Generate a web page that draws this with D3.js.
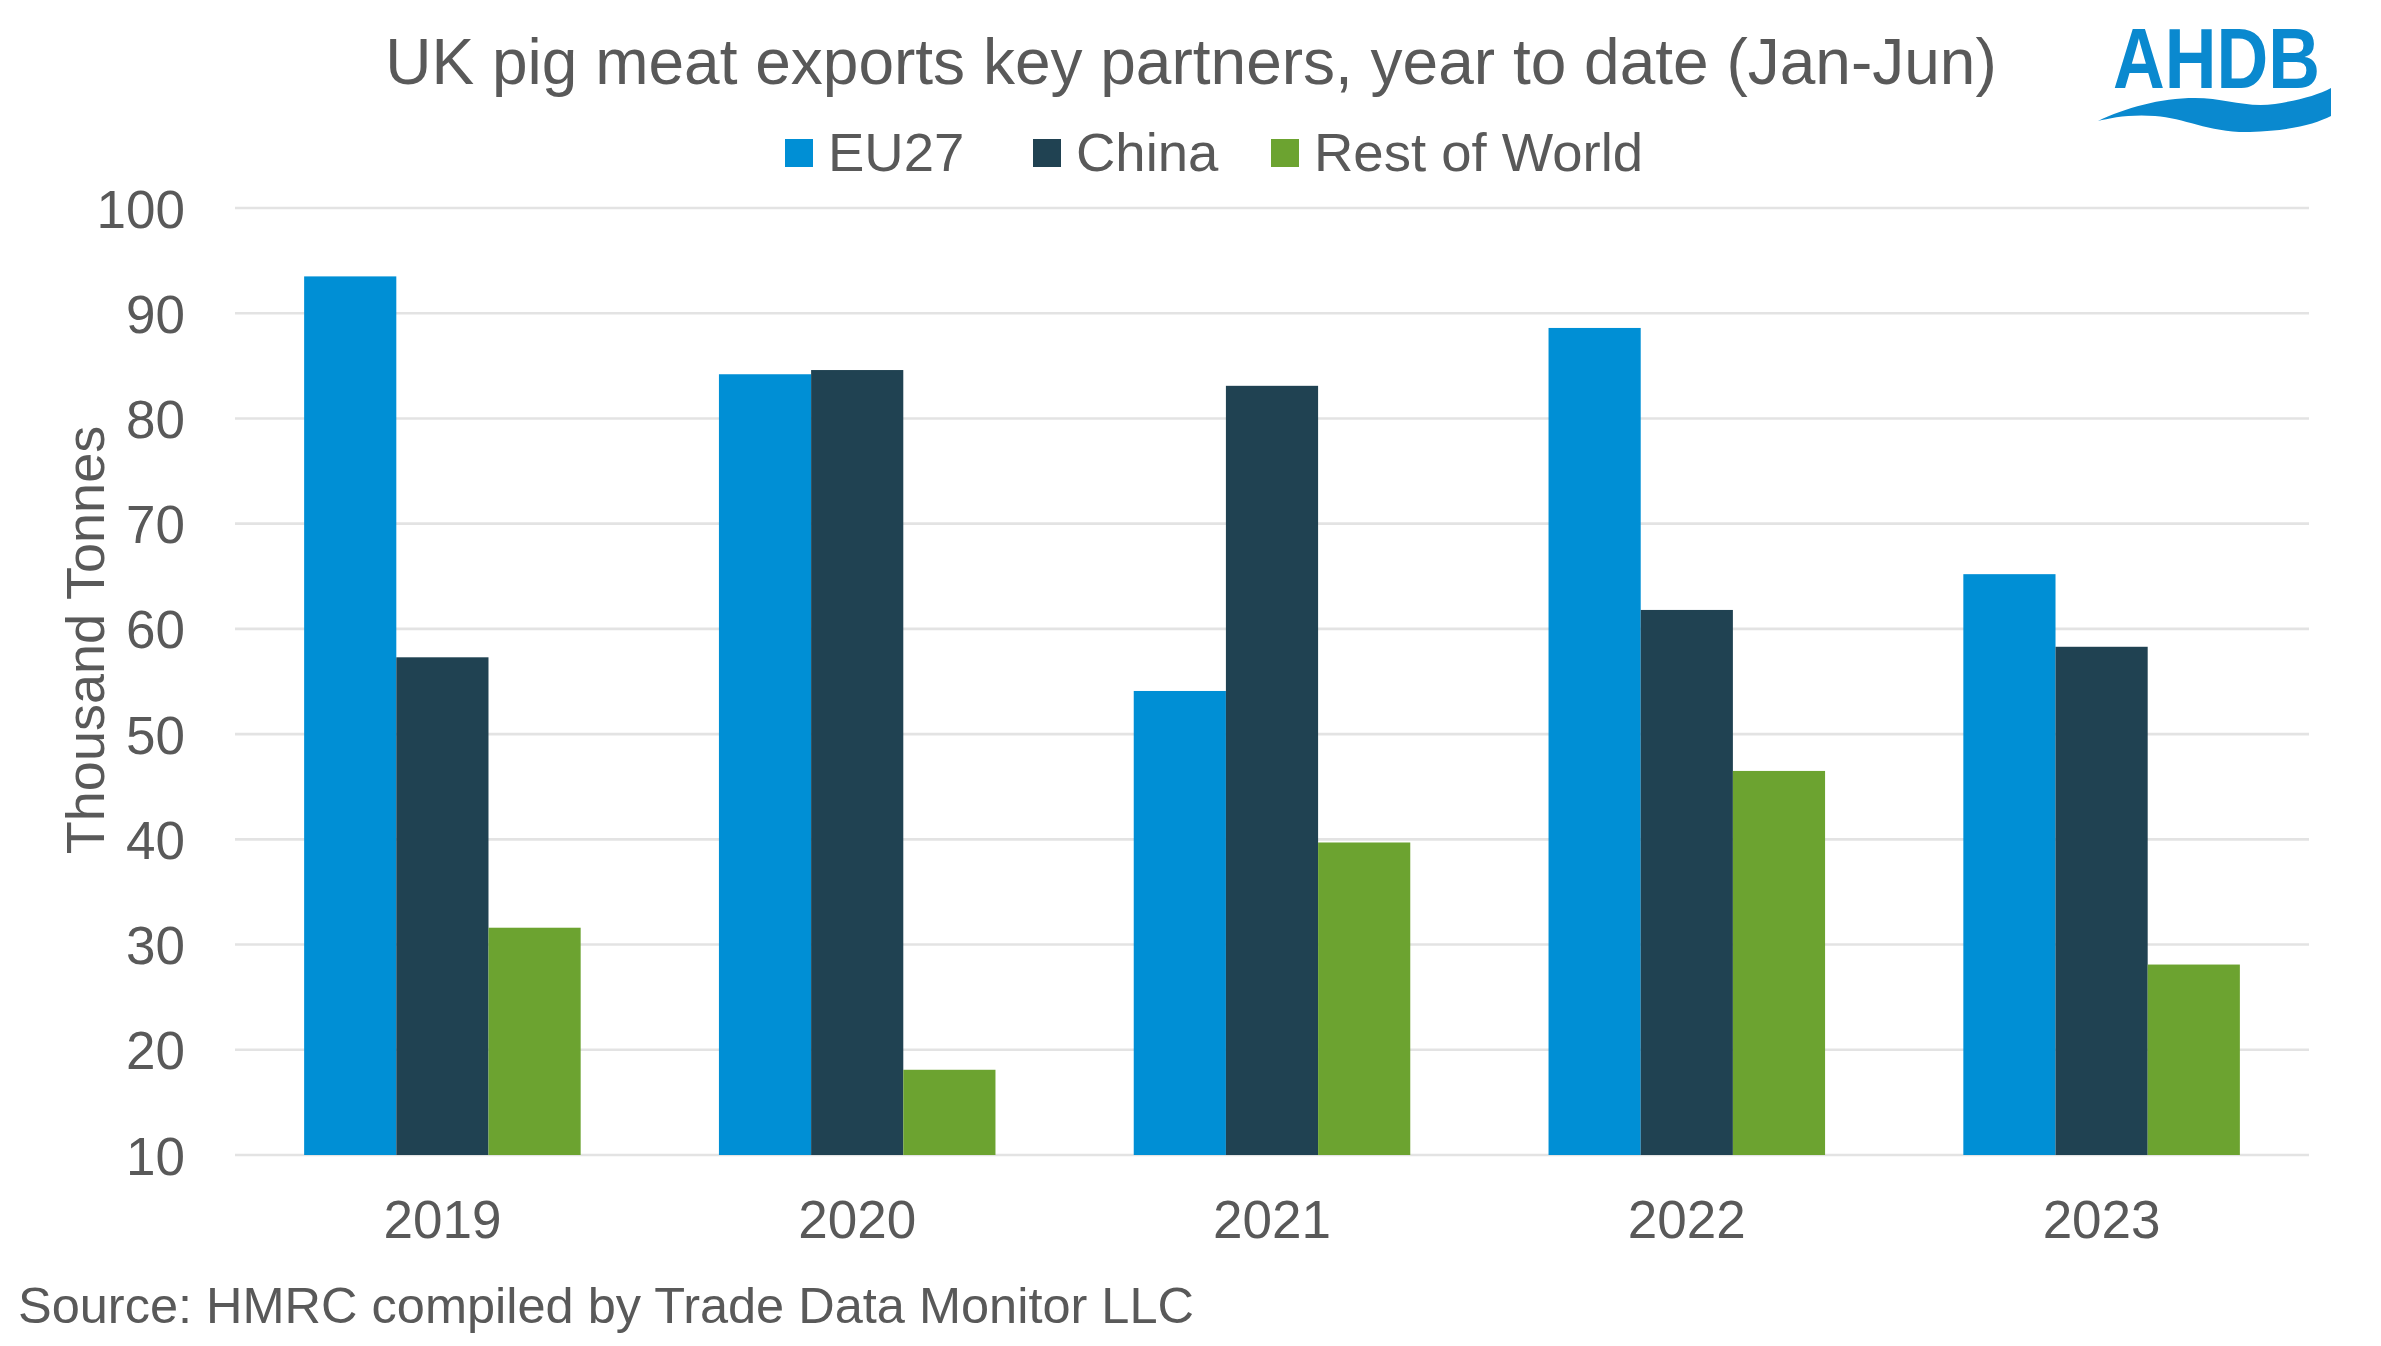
<!DOCTYPE html>
<html>
<head>
<meta charset="utf-8">
<script src="https://cdn.jsdelivr.net/npm/d3@7"></script>
<style>
  html, body { margin: 0; padding: 0; background: #ffffff; }
  svg { display: block; }
  text { font-family: "Liberation Sans", Arial, sans-serif; fill: #595959; }
</style>
</head>
<body>
<svg id="chart" width="2381" height="1346"></svg>
<script>
// ---- Data ----
const years = ["2019", "2020", "2021", "2022", "2023"];
const seriesNames = ["EU27", "China", "Rest of World"];
const eu27 = [93.5, 84.2, 54.1, 88.6, 65.2];
const china = [57.3, 84.6, 83.1, 61.8, 58.3];
const restOfWorld = [31.6, 18.1, 39.7, 46.5, 28.1];
const yTicks = [10, 20, 30, 40, 50, 60, 70, 80, 90, 100];
const colors = ["#008fd5", "#204252", "#6ca330"];

const seriesValues = [eu27, china, restOfWorld];

// ---- Layout ----
const W = 2381, H = 1346;
const plot = { left: 235, right: 2309, top: 208, bottom: 1155 };

const svg = d3.select("#chart");
svg.append("rect").attr("width", W).attr("height", H).attr("fill", "#ffffff");

const x0 = d3.scaleBand().domain(years).range([plot.left, plot.right])
  .paddingInner(1/3).paddingOuter(1/6);
const x1 = d3.scaleBand().domain(seriesNames).range([0, x0.bandwidth()]).padding(0);
const y = d3.scaleLinear().domain([10, 100]).range([plot.bottom, plot.top]);

// Gridlines
svg.append("g").selectAll("line").data(yTicks).join("line")
  .attr("x1", plot.left).attr("x2", plot.right)
  .attr("y1", d => y(d)).attr("y2", d => y(d))
  .attr("stroke", "#e3e3e3").attr("stroke-width", 2.6);

// Y axis labels (via d3 axis)
const yAxis = d3.axisLeft(y).tickValues(yTicks).tickSize(0).tickPadding(0).tickFormat(d3.format("d"));
const gy = svg.append("g").attr("transform", `translate(185,0)`).call(yAxis);
gy.select(".domain").remove();
gy.selectAll("text")
  .attr("font-family", '"Liberation Sans", Arial, sans-serif')
  .attr("font-size", 53).attr("fill", "#595959").attr("dy", "0.36em");

// Bars
const groups = svg.append("g").selectAll("g").data(years).join("g")
  .attr("transform", d => `translate(${x0(d)},0)`);
groups.selectAll("rect")
  .data((yr, i) => seriesNames.map((s, k) => ({ s, k, v: seriesValues[k][i] })))
  .join("rect")
  .attr("x", d => x1(d.s))
  .attr("width", x1.bandwidth())
  .attr("y", d => y(d.v))
  .attr("height", d => y(10) - y(d.v))
  .attr("fill", d => colors[d.k]);

// X axis labels (via d3 axis)
const xAxis = d3.axisBottom(x0).tickSize(0).tickPadding(0);
const gx = svg.append("g").attr("transform", `translate(0,1200)`).call(xAxis);
gx.select(".domain").remove();
gx.selectAll("text")
  .attr("font-family", '"Liberation Sans", Arial, sans-serif')
  .attr("font-size", 53).attr("fill", "#595959").attr("dy", "0.72em");

// Y axis title
svg.append("text")
  .attr("transform", `translate(104,640) rotate(-90)`)
  .attr("text-anchor", "middle")
  .attr("font-size", 54)
  .text("Thousand Tonnes");

// Title
svg.append("text")
  .attr("x", 1191).attr("y", 84)
  .attr("text-anchor", "middle")
  .attr("font-size", 64)
  .text("UK pig meat exports key partners, year to date (Jan-Jun)");

// Legend
const legendXs = [785, 1033, 1271];
const legend = svg.append("g").selectAll("g").data(seriesNames).join("g")
  .attr("transform", (d, i) => `translate(${legendXs[i]},0)`);
legend.append("rect").attr("x", 0).attr("y", 139).attr("width", 28).attr("height", 28)
  .attr("fill", (d, i) => colors[i]);
legend.append("text").attr("x", 43).attr("y", 171).attr("font-size", 54.5).text(d => d);

// Source
svg.append("text")
  .attr("x", 18).attr("y", 1323)
  .attr("font-size", 50.5)
  .text("Source: HMRC compiled by Trade Data Monitor LLC");

// AHDB logo
const logo = svg.append("g");
logo.append("text")
  .attr("x", 2113).attr("y", 88)
  .attr("font-size", 86).attr("font-weight", "bold")
  .attr("textLength", 207).attr("lengthAdjust", "spacingAndGlyphs")
  .style("fill", "#0a89cf")
  .text("AHDB");
logo.append("path")
  .attr("d", "M2098,121 C2125,108 2160,98 2195,98 C2225,98 2245,108 2275,104 C2300,100 2318,95 2331,88 L2331,116 C2315,124 2290,131 2250,132 C2210,133 2185,118 2155,116 C2130,114 2110,118 2098,121 Z")
  .attr("fill", "#0a89cf");
</script>
</body>
</html>
